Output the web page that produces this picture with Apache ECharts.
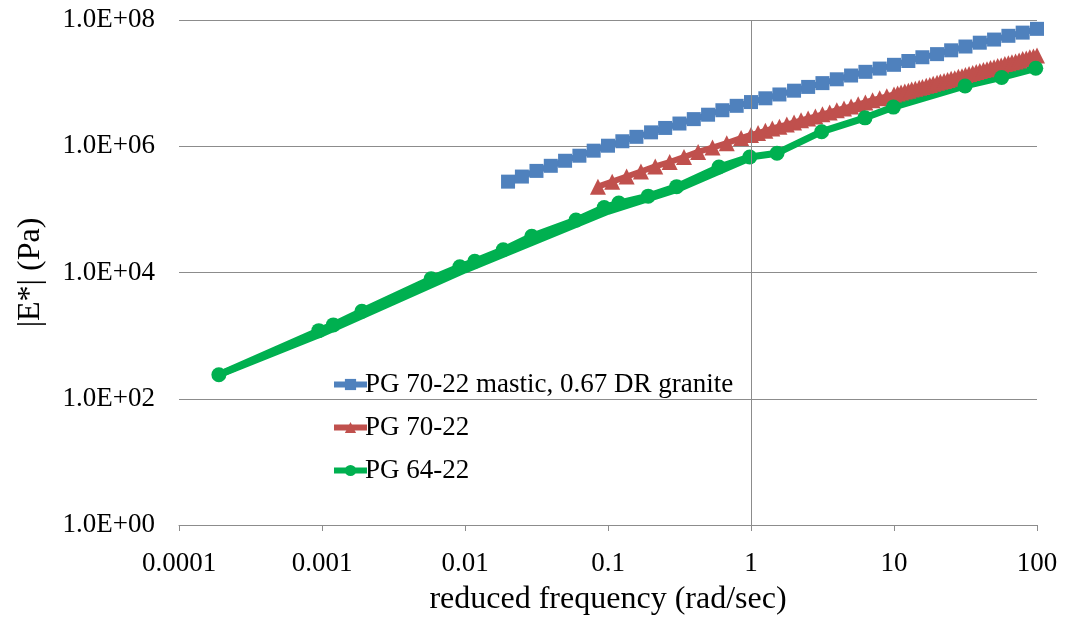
<!DOCTYPE html>
<html>
<head>
<meta charset="utf-8">
<script src="https://cdn.jsdelivr.net/npm/echarts@6/dist/echarts.min.js"></script>
<style>
  html, body { margin: 0; padding: 0; background: #fff; }
</style>
</head>
<body>
<div id="main" style="width: 1065px; height: 621px;"></div>
<script>
// tick labels
const xTickLabels = ['0.0001', '0.001', '0.01', '0.1', '1', '10', '100'];
const yTickLabels = ['1.0E+00', '1.0E+02', '1.0E+04', '1.0E+06', '1.0E+08'];

const seriesNames = ['PG 70-22 mastic, 0.67 DR granite', 'PG 70-22', 'PG 64-22'];

// PG 70-22 mastic, 0.67 DR granite
const masticFreq = [0.02, 0.025, 0.0316, 0.0398, 0.0501, 0.0631, 0.0794, 0.1, 0.126, 0.158,
  0.2, 0.251, 0.316, 0.398, 0.501, 0.631, 0.794, 1, 1.26, 1.58,
  2, 2.51, 3.16, 3.98, 5.01, 6.31, 7.94, 10, 12.6, 15.8,
  20, 25.1, 31.6, 39.8, 50.1, 63.1, 79.4, 100];
const masticE = [2.75e5, 3.31e5, 4.07e5, 4.90e5, 5.89e5, 7.08e5, 8.51e5, 1.02e6, 1.20e6, 1.41e6,
  1.66e6, 1.95e6, 2.29e6, 2.69e6, 3.16e6, 3.72e6, 4.37e6, 5.01e6, 5.75e6, 6.61e6,
  7.59e6, 8.71e6, 1.00e7, 1.15e7, 1.32e7, 1.51e7, 1.70e7, 1.95e7, 2.24e7, 2.57e7,
  2.88e7, 3.31e7, 3.80e7, 4.37e7, 4.90e7, 5.62e7, 6.31e7, 7.24e7];

// PG 70-22
const pg7022Freq = [0.085, 0.107, 0.135, 0.17, 0.214, 0.27, 0.34, 0.427, 0.538, 0.677, 0.853,
  1.0, 1.12, 1.26, 1.41, 1.58, 1.78, 2.0, 2.24, 2.51, 2.82, 3.16, 3.55, 3.98, 4.47, 5.01,
  5.62, 6.31, 7.08, 7.94, 8.91,
  10, 10.6, 11.2, 11.9, 12.6, 13.3, 14.1, 15.0, 15.8, 16.8, 17.8, 18.8, 20.0, 21.1, 22.4,
  23.7, 25.1, 26.6, 28.2, 29.9, 31.6, 33.5, 35.5, 37.6, 39.8, 42.2, 44.7, 47.3, 50.1, 53.1,
  56.2, 59.6, 63.1, 66.8, 70.8, 75.0, 79.4, 84.1, 89.1, 94.4, 100];
const pg7022E = [2.29e5, 2.75e5, 3.31e5, 3.98e5, 4.79e5, 5.62e5, 6.76e5, 8.13e5, 9.55e5, 1.12e6, 1.35e6,
  1.51e6, 1.62e6, 1.76e6, 1.91e6, 2.04e6, 2.21e6, 2.37e6, 2.57e6, 2.75e6, 2.95e6, 3.20e6, 3.43e6, 3.72e6, 3.98e6, 4.27e6,
  4.62e6, 4.95e6, 5.37e6, 5.75e6, 6.17e6,
  6.61e6, 6.84e6, 7.08e6, 7.35e6, 7.59e6, 7.89e6, 8.13e6, 8.47e6, 8.71e6, 9.12e6, 9.33e6, 9.77e6, 1.01e7, 1.05e7, 1.08e7,
  1.12e7, 1.17e7, 1.20e7, 1.26e7, 1.29e7, 1.35e7, 1.40e7, 1.45e7, 1.50e7, 1.55e7, 1.62e7, 1.66e7, 1.74e7, 1.78e7, 1.86e7,
  1.91e7, 2.00e7, 2.07e7, 2.14e7, 2.21e7, 2.29e7, 2.40e7, 2.45e7, 2.57e7, 2.63e7, 2.75e7];

// PG 64-22
const pg6422Freq = [0.00019, 0.00095, 0.0012, 0.0019, 0.0058, 0.0092, 0.0117, 0.0185, 0.0293, 0.0597,
  0.094, 0.119, 0.191, 0.302, 0.597, 0.98, 1.52, 3.12, 6.27, 9.9, 31.4, 56.6, 98];
const pg6422E = [240, 1200, 1480, 2430, 7940, 12300, 15100, 22900, 37600, 67600,
  107000, 126000, 162000, 229000, 468000, 676000, 776000, 1.70e6, 2.82e6, 4.17e6, 9.02e6, 1.23e7, 1.72e7];
// second, smoother trace of PG 64-22 that thickens the line at low frequency
const pg6422bFreq = [0.00019, 0.001, 0.01, 0.1, 0.3, 0.98];
const pg6422bE = [240, 1080, 11000, 93000, 205000, 650000];

const pair = (xs, ys) => xs.map((x, i) => [x, ys[i]]);
const font = 'Liberation Serif';
const gridColor = '#8c8c8c';

const chart = echarts.init(document.getElementById('main'));
chart.setOption({
  animation: false,
  grid: { left: 179, right: 28, top: 20, bottom: 96 },
  legend: {
    data: seriesNames,
    orient: 'vertical',
    left: 326,
    top: 366,
    itemWidth: 33,
    itemHeight: 14,
    itemGap: 16,
    lineStyle: { width: 6 },
    textStyle: { fontFamily: font, fontSize: 27, color: '#000', padding: [0, 0, 0, -7] }
  },
  xAxis: {
    type: 'log',
    logBase: 10,
    min: 0.0001,
    max: 100,
    interval: 1,
    name: 'reduced frequency (rad/sec)',
    nameLocation: 'middle',
    nameGap: 59,
    nameTextStyle: { fontFamily: font, fontSize: 32, color: '#000' },
    axisLine: { show: true, lineStyle: { color: gridColor, width: 1 } },
    axisTick: { show: true, length: 6, lineStyle: { color: gridColor } },
    axisLabel: {
      fontFamily: font, fontSize: 27, color: '#000', margin: 25,
      formatter: v => xTickLabels[Math.round(Math.log10(v)) + 4]
    },
    splitLine: { show: false },
    minorTick: { show: false }
  },
  yAxis: {
    type: 'log',
    logBase: 10,
    min: 1,
    max: 1e8,
    interval: 2,
    name: '|E*| (Pa)',
    nameLocation: 'middle',
    nameGap: 132,
    nameTextStyle: { fontFamily: font, fontSize: 32, color: '#000' },
    axisLine: { show: false },
    axisTick: { show: false },
    axisLabel: {
      fontFamily: font, fontSize: 27, color: '#000', margin: 24,
      formatter: v => yTickLabels[Math.round(Math.log10(v) / 2)]
    },
    splitLine: { show: true, lineStyle: { color: gridColor, width: 1 } }
  },
  series: [
    {
      name: seriesNames[0],
      type: 'line',
      data: pair(masticFreq, masticE),
      symbol: 'rect',
      symbolSize: 14,
      itemStyle: { color: '#4F81BD' },
      lineStyle: { color: '#4F81BD', width: 6 },
      markLine: {
        silent: true,
        symbol: 'none',
        label: { show: false },
        lineStyle: { color: gridColor, width: 1, type: 'solid' },
        data: [{ xAxis: 1 }]
      }
    },
    {
      name: seriesNames[1],
      type: 'line',
      data: pair(pg7022Freq, pg7022E),
      symbol: 'triangle',
      symbolSize: 16,
      itemStyle: { color: '#C0504D' },
      lineStyle: { color: '#C0504D', width: 6 }
    },
    {
      name: 'PG 64-22 trace',
      type: 'line',
      data: pair(pg6422bFreq, pg6422bE),
      showSymbol: false,
      symbol: 'none',
      lineStyle: { color: '#00B050', width: 7 }
    },
    {
      name: seriesNames[2],
      type: 'line',
      data: pair(pg6422Freq, pg6422E),
      symbol: 'circle',
      symbolSize: 15,
      itemStyle: { color: '#00B050' },
      lineStyle: { color: '#00B050', width: 7 }
    }
  ]
});
</script>
</body>
</html>
